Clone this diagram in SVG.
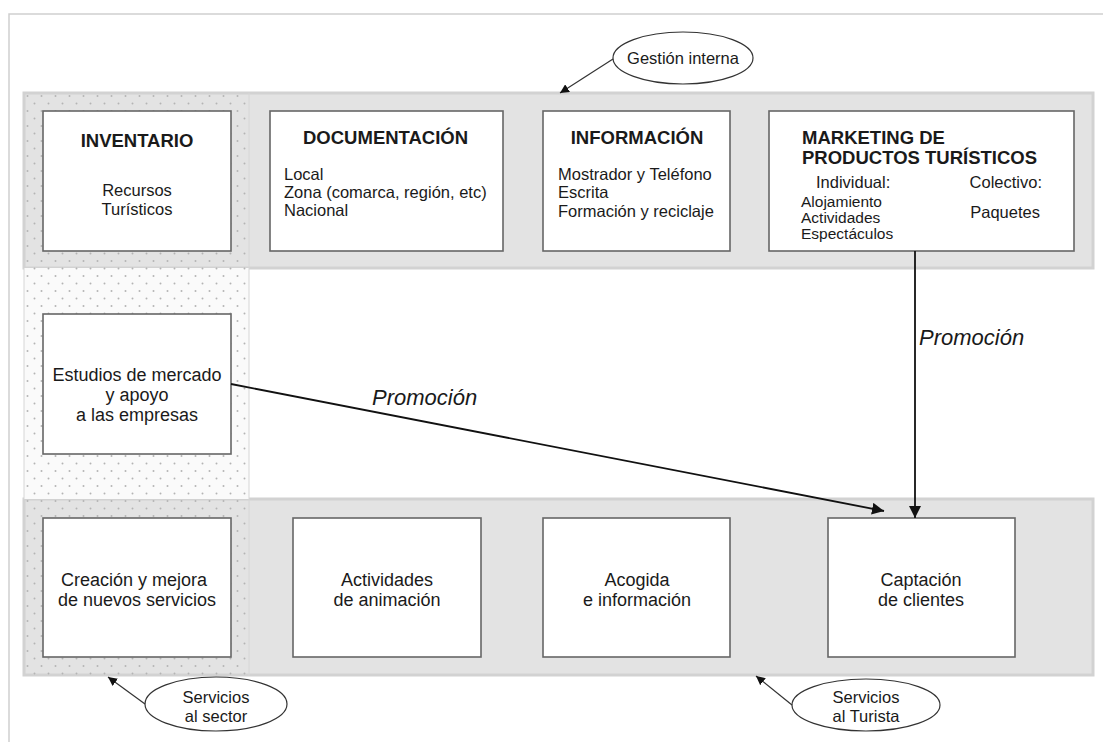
<svg xmlns="http://www.w3.org/2000/svg" width="1103" height="742" viewBox="0 0 1103 742">
<defs>
<pattern id="dots" width="14" height="15" patternUnits="userSpaceOnUse" x="24" y="92">
<circle cx="3.5" cy="4" r="1" fill="#b4b4b4"/>
<circle cx="10.5" cy="11.5" r="1" fill="#b4b4b4"/>
</pattern>
<marker id="ah" viewBox="0 0 10 10" refX="10" refY="5" markerWidth="9" markerHeight="9" markerUnits="userSpaceOnUse" orient="auto">
<path d="M0,0 L10,5 L0,10 z" fill="#111"/>
</marker>
<marker id="ah2" viewBox="0 0 10 10" refX="10" refY="5" markerWidth="12" markerHeight="12" markerUnits="userSpaceOnUse" orient="auto">
<path d="M0,0 L10,5 L0,10 z" fill="#111"/>
</marker>
</defs>
<style>
text{font-family:"Liberation Sans",Arial,sans-serif;fill:#1a1a1a}
.band{fill:#e3e3e3;stroke:#d2d2d2;stroke-width:3}
.box{fill:#fff;stroke:#666;stroke-width:1.6}
.h{font-weight:bold;font-size:18.5px}
.t{font-size:16.5px}
.s{font-size:15.5px}
.m{font-size:18px}
.e{font-size:16.5px}
.c{text-anchor:middle}
.ell{fill:#fff;stroke:#333;stroke-width:1.2}
.conn{stroke:#111;stroke-width:1.8;fill:none}
.thin{stroke:#333;stroke-width:1.2;fill:none}
.promo{font-size:22px;font-style:italic}
</style>
<rect width="1103" height="742" fill="#fff"/>
<g id="frame">
<path d="M9,742 V14 H1103" fill="none" stroke="#cfcfcf" stroke-width="1.5"/>
</g>
<g id="bands">
<rect class="band" x="24" y="93" width="1069" height="175"/>
<rect class="band" x="24" y="499" width="1069" height="176"/>
<rect x="24" y="268" width="225" height="231" fill="#fafafa"/>
<rect x="24" y="93" width="225" height="582" fill="url(#dots)"/>
<line x1="249" y1="93" x2="249" y2="675" stroke="#d6d6d6" stroke-width="1"/>
<line x1="24" y1="268" x2="24" y2="499" stroke="#d6d6d6" stroke-width="1"/>
</g>
<g id="inventario">
<rect class="box" x="43" y="111" width="188" height="140"/>
<text class="h c" x="137" y="147">INVENTARIO</text>
<text class="t c" x="137" y="196">Recursos</text>
<text class="t c" x="137" y="215">Turísticos</text>
</g>
<g id="documentacion">
<rect class="box" x="270" y="111" width="233" height="140"/>
<text class="h" x="303" y="144">DOCUMENTACIÓN</text>
<text class="t" x="284" y="180">Local</text>
<text class="t" x="284" y="198">Zona (comarca, región, etc)</text>
<text class="t" x="284" y="216">Nacional</text>
</g>
<g id="informacion">
<rect class="box" x="543" y="111" width="187" height="140"/>
<text class="h c" x="637" y="144">INFORMACIÓN</text>
<text class="t" x="558" y="180">Mostrador y Teléfono</text>
<text class="t" x="558" y="198">Escrita</text>
<text class="t" x="558" y="217">Formación y reciclaje</text>
</g>
<g id="marketing">
<rect class="box" x="769" y="111" width="305" height="140"/>
<text class="h" x="802" y="144">MARKETING DE</text>
<text class="h" x="802" y="164">PRODUCTOS TURÍSTICOS</text>
<text class="t" x="816" y="188">Individual:</text>
<text class="t" x="1042" y="188" text-anchor="end">Colectivo:</text>
<text class="s" x="801" y="207">Alojamiento</text>
<text class="s" x="801" y="223">Actividades</text>
<text class="s" x="801" y="239">Espectáculos</text>
<text class="t" x="1040" y="218" text-anchor="end">Paquetes</text>
</g>
<g id="estudios">
<rect class="box" x="43" y="314" width="188" height="140"/>
<text class="m c" x="137" y="381">Estudios de mercado</text>
<text class="m c" x="137" y="401">y apoyo</text>
<text class="m c" x="137" y="421">a las empresas</text>
</g>
<g id="creacion">
<rect class="box" x="43" y="518" width="188" height="139"/>
<text class="m c" x="134" y="586">Creación y mejora</text>
<text class="m c" x="137" y="606">de nuevos servicios</text>
</g>
<g id="actividades">
<rect class="box" x="293" y="518" width="188" height="139"/>
<text class="m c" x="387" y="586">Actividades</text>
<text class="m c" x="387" y="606">de animación</text>
</g>
<g id="acogida">
<rect class="box" x="543" y="518" width="187" height="139"/>
<text class="m c" x="637" y="586">Acogida</text>
<text class="m c" x="637" y="606">e información</text>
</g>
<g id="captacion">
<rect class="box" x="828" y="518" width="187" height="139"/>
<text class="m c" x="921" y="586">Captación</text>
<text class="m c" x="921" y="606">de clientes</text>
</g>
<g id="gestion">
<ellipse class="ell" cx="683" cy="58" rx="70" ry="26"/>
<text class="e c" x="683" y="64">Gestión interna</text>
</g>
<g id="sector">
<ellipse class="ell" cx="216" cy="704" rx="71" ry="27"/>
<text class="e c" x="216" y="703">Servicios</text>
<text class="e c" x="216" y="722">al sector</text>
</g>
<g id="turista">
<ellipse class="ell" cx="866" cy="705" rx="74" ry="26"/>
<text class="e c" x="866" y="703">Servicios</text>
<text class="e c" x="866" y="722">al Turista</text>
</g>
<g id="connectors">
<line class="conn" x1="915" y1="251" x2="915" y2="518" marker-end="url(#ah2)"/>
<line class="conn" x1="231" y1="384" x2="884" y2="511" marker-end="url(#ah2)"/>
<line class="thin" x1="613" y1="59" x2="560" y2="93" marker-end="url(#ah)"/>
<line class="thin" x1="145" y1="704" x2="108" y2="677" marker-end="url(#ah)"/>
<line class="thin" x1="792" y1="705" x2="756" y2="676" marker-end="url(#ah)"/>
<text class="promo" x="372" y="405">Promoción</text>
<text class="promo" x="919" y="345">Promoción</text>
</g>
</svg>
